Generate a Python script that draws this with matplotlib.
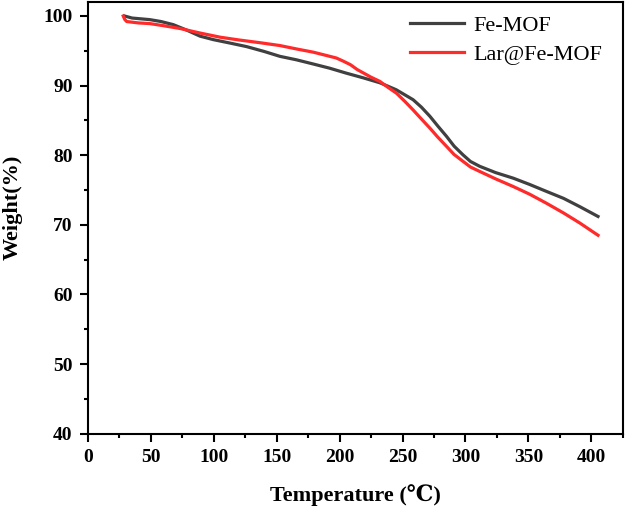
import numpy as np
import matplotlib
matplotlib.use("Agg")
import matplotlib.pyplot as plt
from matplotlib.ticker import MultipleLocator

# Fe-MOF curve
fe_t = [28.9, 35, 49.2, 58, 67.8, 78, 89, 99.6, 113, 126, 140, 152.5, 165.7, 179, 192, 205,
        219, 232, 245, 258.4, 265, 271.7, 278, 285, 291, 298, 304, 311.4, 324, 338, 351,
        364.4, 378, 391, 405.4]
fe_w = [100.0, 99.7, 99.47, 99.2, 98.75, 98.0, 97.1, 96.6, 96.1, 95.6, 94.9, 94.2, 93.7, 93.1, 92.5, 91.8,
        91.1, 90.4, 89.4, 87.97, 86.9, 85.6, 84.2, 82.7, 81.3, 80.06, 79.1, 78.4, 77.5, 76.7, 75.8,
        74.8, 73.8, 72.6, 71.2]

# Lar@Fe-MOF curve
lar_t = [28, 29.2, 30.7, 40, 49.2, 60, 73.1, 89, 105, 120, 137, 152.5, 166, 179, 190, 197.4,
         203, 208.6, 214, 219, 225, 232, 238, 245.2, 252, 258.4, 265, 271.7, 278, 285, 291,
         298.2, 304, 311.4, 324, 338, 351, 364.4, 378, 391, 405.4]
lar_w = [100.0, 99.5, 99.2, 99.0, 98.9, 98.6, 98.2, 97.55, 96.95, 96.55, 96.15, 95.75, 95.25, 94.8, 94.3, 93.96,
         93.5, 93.0, 92.3, 91.8, 91.2, 90.6, 89.8, 88.9, 87.7, 86.5, 85.2, 83.9, 82.6, 81.26, 80.1,
         79.1, 78.3, 77.66, 76.6, 75.5, 74.4, 73.1, 71.7, 70.25, 68.5]

plt.rcParams['font.family'] = ['Liberation Serif', 'DejaVu Serif']

fig = plt.figure(figsize=(6.26, 5.07), dpi=100)
ax = fig.add_axes([0.1406, 0.1446, 0.9947 - 0.1406, 0.996 - 0.1446])

ax.plot(fe_t, fe_w, color='#404040', lw=2.3, label='Fe-MOF', solid_joinstyle='round')
ax.plot(lar_t, lar_w, color='#ff2a2a', lw=2.3, label='Lar@Fe-MOF', solid_joinstyle='round')

ax.set_xlim(0, 425)
ax.set_ylim(40, 102)
ax.xaxis.set_major_locator(MultipleLocator(50))
ax.xaxis.set_minor_locator(MultipleLocator(25))
ax.yaxis.set_major_locator(MultipleLocator(10))
ax.yaxis.set_minor_locator(MultipleLocator(5))
ax.tick_params(which='both', direction='out', top=False, right=False, width=1.5)
ax.tick_params(which='major', length=6, labelsize=14, pad=5)
ax.tick_params(which='minor', length=3)
for lab in ax.get_xticklabels() + ax.get_yticklabels():
    lab.set_fontweight('bold')
for sp in ax.spines.values():
    sp.set_linewidth(1.5)

ax.set_xlabel('Temperature (℃)', fontsize=16, fontweight='bold')
ax.set_ylabel('Weight(%)', fontsize=16, fontweight='bold')
ax.xaxis.set_label_coords(0.5, -0.1165)
ax.yaxis.set_label_coords(-0.1216, 0.525)

ax.legend(loc='upper right', bbox_to_anchor=(1.0, 1.016), frameon=False, fontsize=16,
          handlelength=2.4, handletextpad=0.45, labelspacing=0.39)

fig.savefig('out.png', dpi=100)
